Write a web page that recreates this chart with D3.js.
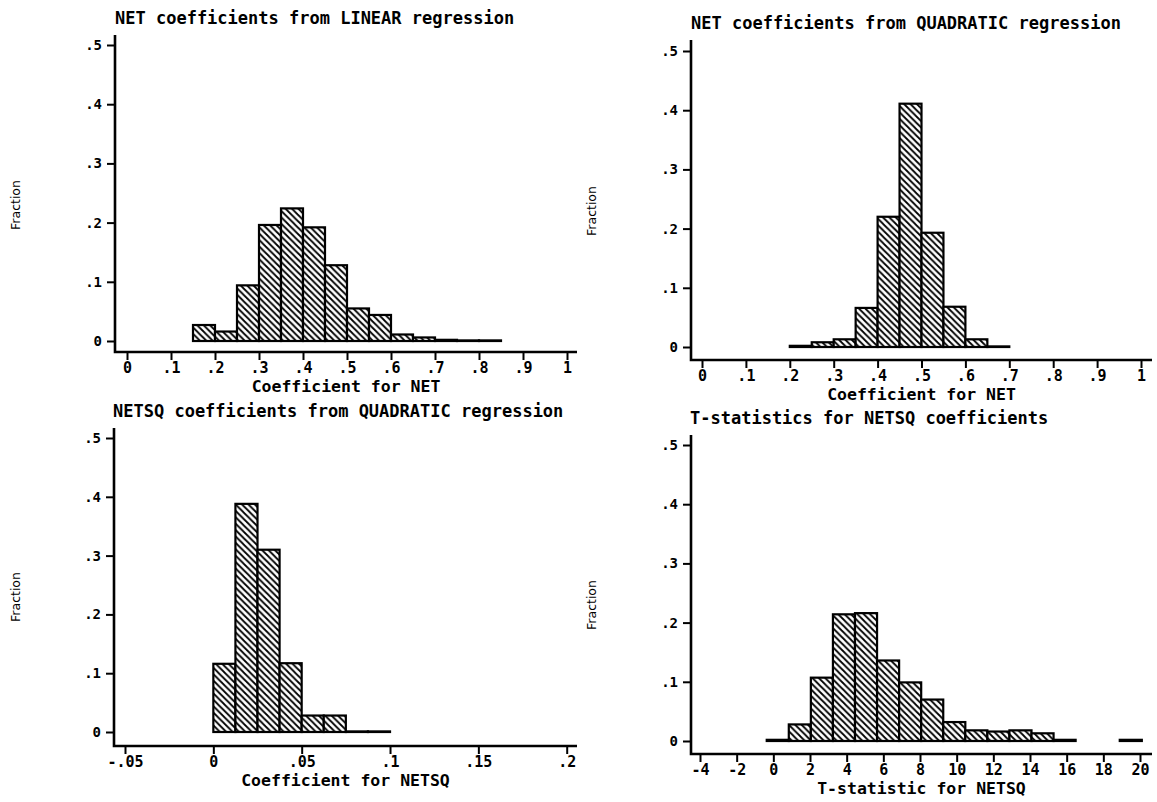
<!DOCTYPE html>
<meta charset="utf-8">
<script src="https://cdn.jsdelivr.net/npm/d3@7"></script>
<style>
body { margin: 0; background: #fff; }
text { font-family: "DejaVu Sans Mono", monospace; font-weight: bold; fill: #000; }
.bar { stroke: #000; stroke-width: 2.2px; }
.axisline { stroke: #000; stroke-width: 2.6px; fill: none; }
.tick line { stroke: #000; stroke-width: 2px; }
</style>
<body>
<script>

// histogram fractions, one value per bin
var linNetStart = 0.15, linNetWidth = 0.05;
var linNetFrac = [0.027, 0.016, 0.094, 0.196, 0.224, 0.192, 0.128, 0.055, 0.044, 0.011, 0.006, 0.002, 0.001, 0.001];

var quadNetStart = 0.20, quadNetWidth = 0.05;
var quadNetFrac = [0.002, 0.008, 0.013, 0.066, 0.220, 0.411, 0.193, 0.068, 0.013, 0.001];

var netsqStart = 0, netsqWidth = 0.0125;
var netsqFrac = [0.116, 0.388, 0.310, 0.117, 0.028, 0.028, 0.001, 0.001];

var tstatStart = -0.36, tstatWidth = 1.2035;
var tstatFrac = [0.002, 0.028, 0.107, 0.214, 0.216, 0.136, 0.099, 0.070, 0.032, 0.018, 0.016, 0.018, 0.013, 0.002, 0, 0, 0.002];

var fracTicks = [0, .1, .2, .3, .4, .5];
var netTicks = [0, .1, .2, .3, .4, .5, .6, .7, .8, .9, 1];
var netsqTicks = [-.05, 0, .05, .1, .15, .2];
var tstatTicks = [-4, -2, 0, 2, 4, 6, 8, 10, 12, 14, 16, 18, 20];

var width = 1157, height = 802;

var svg = d3.select("body").append("svg")
    .attr("width", width)
    .attr("height", height);

// diagonal hatch fill
var pat = svg.append("defs").append("pattern")
    .attr("id", "hatch")
    .attr("patternUnits", "userSpaceOnUse")
    .attr("width", 6.4).attr("height", 6.4);
pat.append("rect").attr("width", 6.4).attr("height", 6.4).attr("fill", "#fff");
pat.append("path")
    .attr("d", "M-1,-1 L7.4,7.4 M-4,2.4 L2.4,8.8 M4,-2.4 L8.8,2.4")
    .attr("stroke", "#000")
    .attr("stroke-width", 1.8);

function trimZero(d) {
  if (d === 0) return "0";
  var s = String(+d.toFixed(3));
  return s.replace(/^0\./, ".").replace(/^-0\./, "-.");
}

function drawPanel(p) {
  var g = svg.append("g");

  var x = d3.scaleLinear().domain(p.xDomain).range(p.xRange);
  var y = d3.scaleLinear().domain([0, .5]).range([p.y0, p.y5]);

  var bins = p.frac.map(function(f, i) {
    return {x0: p.start + i * p.width, x1: p.start + (i + 1) * p.width, f: f};
  }).filter(function(b) { return b.f > 0; });

  g.selectAll("rect.bar")
    .data(bins)
    .enter().append("rect")
      .attr("class", "bar")
      .attr("fill", "url(#hatch)")
      .attr("x", function(d) { return x(d.x0); })
      .attr("width", function(d) { return x(d.x1) - x(d.x0); })
      .attr("y", function(d) { return y(d.f); })
      .attr("height", function(d) { return y(0) - y(d.f); });

  // axis lines
  g.append("path")
      .attr("class", "axisline")
      .attr("d", "M" + p.axisX + "," + p.top + "V" + p.axisY + "H" + p.right);

  var yAxis = g.append("g")
      .attr("transform", "translate(" + p.axisX + ",0)")
      .call(d3.axisLeft(y).tickValues(fracTicks).tickFormat(trimZero).tickSize(8).tickPadding(5));
  yAxis.select(".domain").remove();
  yAxis.selectAll("text")
      .style("font-family", "'DejaVu Sans Mono', monospace")
      .style("font-weight", "bold")
      .style("font-size", "14px");

  var xAxis = g.append("g")
      .attr("transform", "translate(0," + p.axisY + ")")
      .call(d3.axisBottom(x).tickValues(p.ticks).tickFormat(trimZero).tickSize(8).tickPadding(2));
  xAxis.select(".domain").remove();
  xAxis.selectAll("text")
      .style("font-family", "'DejaVu Sans Mono', monospace")
      .style("font-weight", "bold")
      .style("font-size", "15px");

  g.append("text")
      .attr("x", p.titleX)
      .attr("y", p.top - 11)
      .style("font-size", "17px")
      .text(p.title);

  g.append("text")
      .attr("x", (p.axisX + p.right) / 2)
      .attr("y", p.axisY + 40)
      .attr("text-anchor", "middle")
      .style("font-size", "16.5px")
      .text(p.xLabel);

  g.append("text")
      .attr("transform", "translate(" + (p.fracX) + "," + ((p.y0 + p.y5) / 2 + 12) + ") rotate(-90)")
      .attr("text-anchor", "middle")
      .style("font-family", "'DejaVu Sans', sans-serif")
      .style("font-size", "12.5px")
      .style("font-weight", "normal")
      .text("Fraction");
}

drawPanel({
  title: "NET coefficients from LINEAR regression",
  xLabel: "Coefficient for NET",
  frac: linNetFrac, start: linNetStart, width: linNetWidth,
  xDomain: [0, 1], xRange: [127, 567], ticks: netTicks,
  axisX: 115, axisY: 352, top: 35, right: 577, y0: 341, y5: 45,
  titleX: 115, fracX: 20
});

drawPanel({
  title: "NET coefficients from QUADRATIC regression",
  xLabel: "Coefficient for NET",
  frac: quadNetFrac, start: quadNetStart, width: quadNetWidth,
  xDomain: [0, 1], xRange: [702, 1141], ticks: netTicks,
  axisX: 691, axisY: 360, top: 40, right: 1152, y0: 347, y5: 51,
  titleX: 691, fracX: 596
});

drawPanel({
  title: "NETSQ coefficients from QUADRATIC regression",
  xLabel: "Coefficient for NETSQ",
  frac: netsqFrac, start: netsqStart, width: netsqWidth,
  xDomain: [-.05, .2], xRange: [125, 566.7], ticks: netsqTicks,
  axisX: 114, axisY: 746, top: 428, right: 577, y0: 732, y5: 438,
  titleX: 113, fracX: 20
});

drawPanel({
  title: "T-statistics for NETSQ coefficients",
  xLabel: "T-statistic for NETSQ",
  frac: tstatFrac, start: tstatStart, width: tstatWidth,
  xDomain: [-4, 20], xRange: [700, 1140], ticks: tstatTicks,
  axisX: 691, axisY: 754, top: 435, right: 1152, y0: 741, y5: 445,
  titleX: 690, fracX: 596
});

</script>
</body>
